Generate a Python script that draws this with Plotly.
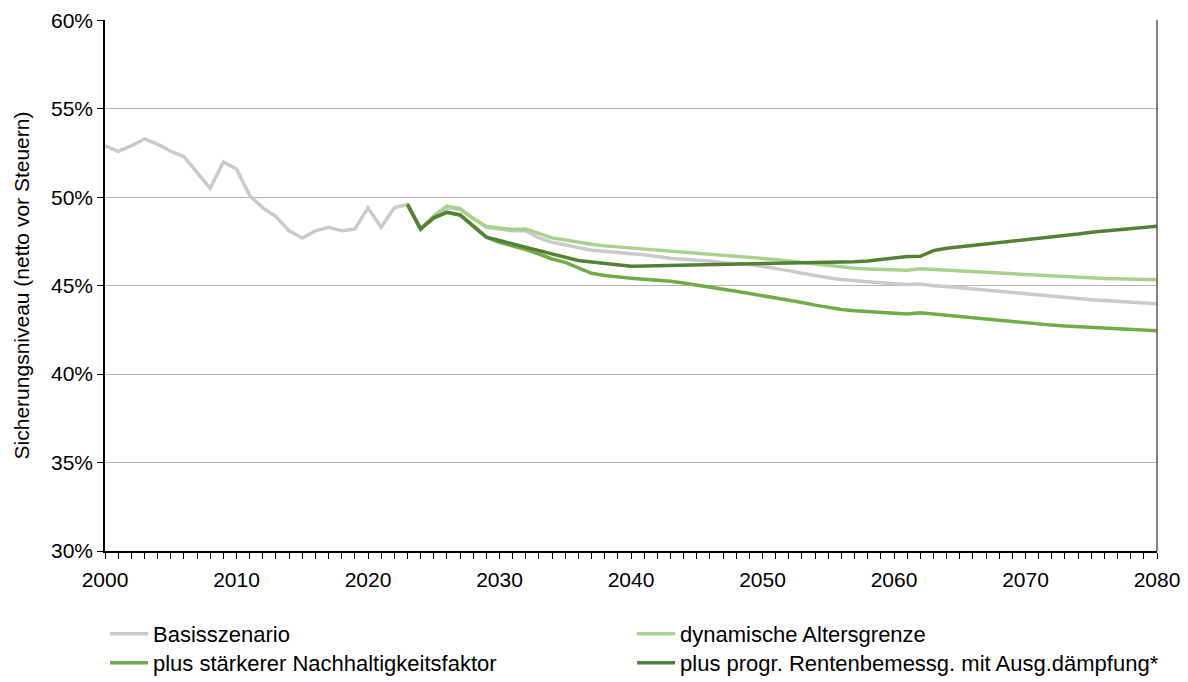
import plotly.graph_objects as go

years_hist = list(range(2000, 2024))
years_proj = list(range(2023, 2081))

basis_hist = [52.9, 52.6, 52.9, 53.3, 53.0, 52.6, 52.3, 51.4, 50.5, 52.0,
              51.6, 50.1, 49.4, 48.9, 48.1, 47.7, 48.1, 48.3, 48.1, 48.2,
              49.4, 48.3, 49.4, 49.6]

basis_proj = [49.6, 48.2, 48.9, 49.4, 49.3, 48.8, 48.3, 48.2, 48.1, 48.1,
              47.7, 47.45, 47.3, 47.15, 47.0, 46.95, 46.85, 46.8, 46.75, 46.65,
              46.55, 46.5, 46.45, 46.4, 46.3, 46.25, 46.2, 46.1, 46.0, 45.85,
              45.7, 45.55, 45.45, 45.35, 45.27, 45.22, 45.17, 45.12, 45.07, 45.1,
              45.0, 44.95, 44.88, 44.81, 44.74, 44.67, 44.6, 44.53, 44.47, 44.41,
              44.35, 44.28, 44.21, 44.16, 44.11, 44.06, 44.02, 43.98]

dyn_alter = [49.6, 48.2, 48.95, 49.5, 49.35, 48.8, 48.35, 48.25, 48.17, 48.2,
             47.95, 47.7, 47.58, 47.45, 47.34, 47.25, 47.19, 47.13, 47.09, 47.05,
             46.99, 46.93, 46.86, 46.8, 46.74, 46.68, 46.62, 46.55, 46.48, 46.4,
             46.31, 46.22, 46.13, 46.05, 45.99, 45.94, 45.91, 45.89, 45.87, 45.95,
             45.92, 45.89, 45.85, 45.8, 45.76, 45.71, 45.67, 45.62, 45.58, 45.54,
             45.5, 45.47, 45.43, 45.41, 45.39, 45.37, 45.35, 45.34]

nhf = [49.6, 48.2, 48.85, 49.15, 49.0, 48.4, 47.74, 47.45, 47.26, 47.04,
       46.79, 46.51, 46.32, 46.0, 45.7, 45.57, 45.47, 45.42, 45.36, 45.32,
       45.25, 45.15, 45.02, 44.92, 44.8, 44.69, 44.57, 44.45, 44.33, 44.2,
       44.05, 43.9, 43.77, 43.65, 43.58, 43.53, 43.48, 43.43, 43.4, 43.47,
       43.4, 43.33, 43.25, 43.17, 43.1, 43.02, 42.96, 42.89, 42.83, 42.77,
       42.72, 42.68, 42.64, 42.6, 42.56, 42.52, 42.48, 42.45]

progr = [49.6, 48.2, 48.83, 49.15, 49.0, 48.4, 47.74, 47.55, 47.36, 47.17,
         46.98, 46.75, 46.57, 46.42, 46.34, 46.26, 46.16, 46.1, 46.11, 46.13,
         46.14, 46.15, 46.17, 46.18, 46.2, 46.22, 46.24, 46.26, 46.27, 46.28,
         46.29, 46.3, 46.3, 46.31, 46.35, 46.4, 46.47, 46.56, 46.65, 46.66,
         46.98, 47.12, 47.2, 47.27, 47.34, 47.41, 47.48, 47.57, 47.66, 47.74,
         47.83, 47.92, 48.02, 48.09, 48.16, 48.23, 48.3, 48.36]

names = ["Basisszenario", "dynamische Altersgrenze",
         "plus stärkerer Nachhaltigkeitsfaktor",
         "plus progr. Rentenbemessg. mit Ausg.dämpfung*"]
colors = ["#cacaca", "#a9d18e", "#70ad47", "#548235"]

x_ticks = [2000, 2010, 2020, 2030, 2040, 2050, 2060, 2070, 2080]
y_ticks = [30, 35, 40, 45, 50, 55, 60]
y_ticktext = [f"{v}%" for v in y_ticks]

font_family = "Liberation Sans, Arial, sans-serif"
fs = 21
legend_fs = 22

fig = go.Figure()
fig.add_trace(go.Scatter(x=years_hist + years_proj[1:], y=basis_hist + basis_proj[1:],
                         mode="lines", name=names[0], legend="legend",
                         line=dict(color=colors[0], width=3.5)))
fig.add_trace(go.Scatter(x=years_proj, y=dyn_alter, mode="lines", name=names[1],
                         legend="legend2",
                         line=dict(color=colors[1], width=3.5)))
fig.add_trace(go.Scatter(x=years_proj, y=nhf, mode="lines", name=names[2],
                         legend="legend3",
                         line=dict(color=colors[2], width=3.5)))
fig.add_trace(go.Scatter(x=years_proj, y=progr, mode="lines", name=names[3],
                         legend="legend4",
                         line=dict(color=colors[3], width=3.5)))

legend_common = dict(orientation="v", yanchor="top", xanchor="left",
                     yref="container",
                     font=dict(family=font_family, size=legend_fs, color="#000000"),
                     itemwidth=38, tracegroupgap=0, bgcolor="rgba(0,0,0,0)",
                     traceorder="normal")

row1_y = 0.1012
row2_y = 0.0587
col1_x = 0.0
col2_x = 0.501

fig.update_layout(
    width=1188, height=682,
    margin=dict(l=105, r=31, t=20, b=131),
    paper_bgcolor="white", plot_bgcolor="white",
    font=dict(family=font_family, size=fs, color="#000000"),
    showlegend=True,
    legend=dict(x=col1_x, y=row1_y, **legend_common),
    legend2=dict(x=col2_x, y=row1_y, **legend_common),
    legend3=dict(x=col1_x, y=row2_y, **legend_common),
    legend4=dict(x=col2_x, y=row2_y, **legend_common),
    xaxis=dict(range=[2000, 2080], tickvals=x_ticks, ticktext=[str(v) for v in x_ticks],
               showgrid=False, zeroline=False, showline=True, linecolor="#000000",
               linewidth=1.5, ticks="outside", ticklen=6, tickcolor="#000000",
               minor=dict(dtick=1, ticks="outside", ticklen=6, tickcolor="#000000",
                          showgrid=False),
               automargin=False, ticklabelstandoff=3,
               tickfont=dict(size=fs, color="#000000")),
    yaxis=dict(range=[30, 60.02], tickvals=y_ticks, ticktext=y_ticktext,
               showgrid=True, gridcolor="#b3b3b3", gridwidth=1,
               zeroline=False, showline=True, linecolor="#000000", linewidth=1.5,
               ticks="outside", ticklen=6, tickcolor="#000000",
               automargin=False,
               title=dict(text="Sicherungsniveau (netto vor Steuern)", standoff=16,
                          font=dict(size=fs, color="#000000")),
               tickfont=dict(size=fs, color="#000000")),
    shapes=[dict(type="line", xref="paper", yref="paper", x0=1, x1=1, y0=0, y1=1,
                 line=dict(color="#595959", width=1.5))],
)

fig.write_html("out.html", config={"displayModeBar": False},
               post_script="document.body.style.margin='0px';")
